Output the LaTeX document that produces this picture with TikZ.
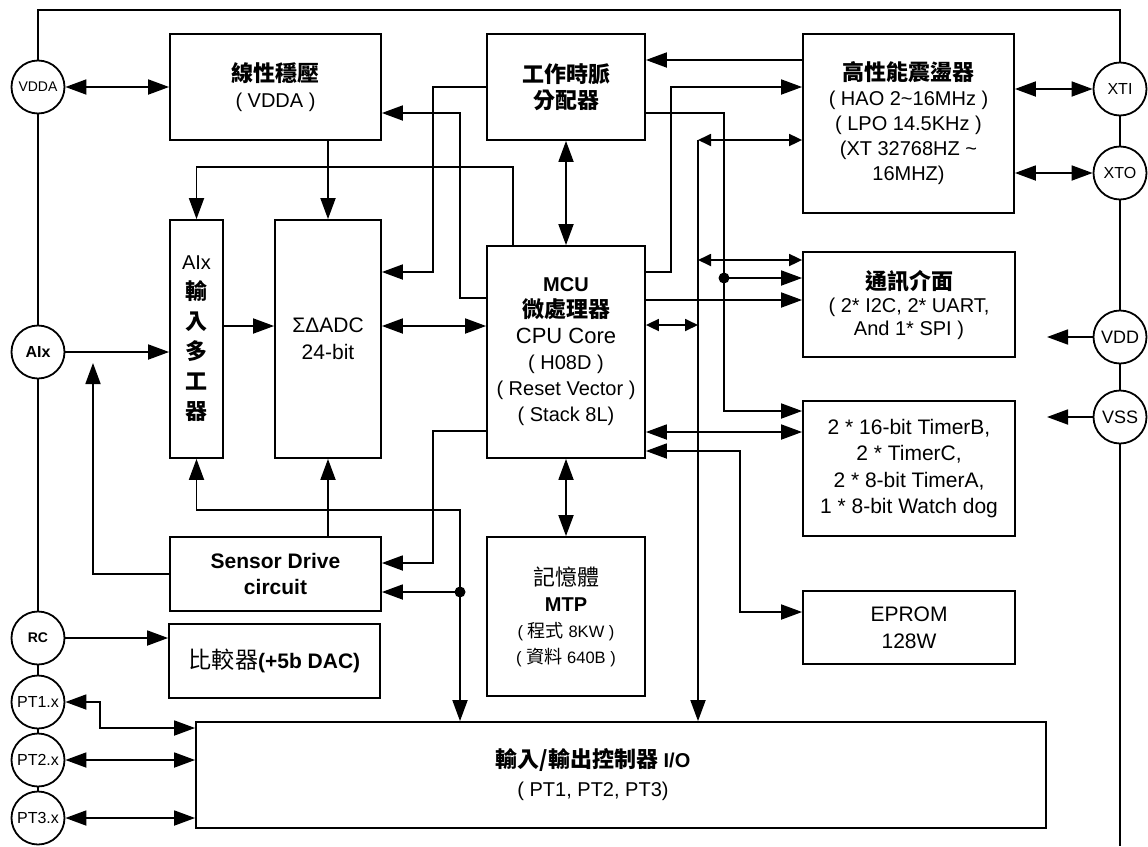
\documentclass[tikz,border=0pt]{standalone}
\usepackage{fontspec}
\setmainfont{Liberation Sans}
\newfontfamily\cjk[Scale=1.1]{Noto Sans CJK TC}
\usetikzlibrary{arrows.meta}
\definecolor{BlockInk}{HTML}{000000}
\newcommand{\zh}[1]{{\cjk #1}}

\begin{document}
\begin{tikzpicture}[x=1pt,y=-1pt,>={Triangle[length=21pt,width=15pt]},line width=1.8pt,BlockInk,
  blk/.style={draw,align=center,inner sep=0pt,font=\fontsize{20}{26}\selectfont},
  pad/.style={draw,circle,minimum size=53pt,inner sep=0pt,font=\fontsize{16}{18}\selectfont},
  shortarr/.style={{Triangle[length=13pt,width=12pt]}-{Triangle[length=13pt,width=12pt]}},
  joint/.style={circle,fill,inner sep=0pt,minimum size=11pt}]
  \useasboundingbox (0,0) rectangle (1148,846);

  % pins
  \node[pad,font=\fontsize{14}{16}\selectfont] (vdda) at (38,87) {VDDA};
  \node[pad,font=\fontsize{16}{18}\selectfont\bfseries] (aix) at (38,352) {AIx};
  \node[pad,font=\fontsize{14}{16}\selectfont\bfseries] (rc) at (38,638) {RC};
  \node[pad] (pt1) at (38,702) {PT1.x};
  \node[pad] (pt2) at (38,760) {PT2.x};
  \node[pad] (pt3) at (38,818) {PT3.x};
  \node[pad] (xti) at (1120,89) {XTI};
  \node[pad] (xto) at (1120,173) {XTO};
  \node[pad,font=\fontsize{18}{20}\selectfont] (vdd) at (1120,337) {VDD};
  \node[pad,font=\fontsize{18}{20}\selectfont] (vss) at (1120,417) {VSS};

  % outer rails
  \coordinate (topL) at (38,10);
  \coordinate (topR) at (1120,10);
  \coordinate (botR) at (1120,846);
  \draw (vdda.north) -- (topL) -- (topR) -- (xti.north);
  \draw (vdda.south) -- (aix.north) (aix.south) -- (rc.north) (rc.south) -- (pt1.north)
        (pt1.south) -- (pt2.north) (pt2.south) -- (pt3.north);
  \draw (xti.south) -- (xto.north) (xto.south) -- (vdd.north) (vdd.south) -- (vss.north)
        (vss.south) -- (botR);

  % blocks
  \node[blk,minimum width=211pt,minimum height=106pt] (ldo) at (275.5,87)
    {\zh{\bfseries 線性穩壓}\\( VDDA )};
  \node[blk,minimum width=158pt,minimum height=106pt] (clk) at (566,87)
    {\zh{\bfseries 工作時脈}\\\zh{\bfseries 分配器}};
  \node[blk,minimum width=211pt,minimum height=179pt,font=\fontsize{20}{25}\selectfont] (osc) at (908.5,123.5)
    {\zh{\bfseries 高性能震盪器}\\( HAO 2\textasciitilde16MHz )\\( LPO 14.5KHz )\\(XT 32768HZ \textasciitilde\\16MHZ)};
  \node[blk,minimum width=53pt,minimum height=238pt,font=\fontsize{20}{30}\selectfont] (mux) at (196.5,339)
    {AIx\\\zh{\bfseries 輸}\\\zh{\bfseries 入}\\\zh{\bfseries 多}\\\zh{\bfseries 工}\\\zh{\bfseries 器}};
  \node[blk,minimum width=106pt,minimum height=238pt,font=\fontsize{21}{27}\selectfont] (adc) at (328,339)
    {ΣΔADC\\24-bit};
  \node[blk,minimum width=158pt,minimum height=212pt] (mcu) at (566,352)
    {\textbf{MCU}\\\zh{\bfseries 微處理器}\\{\fontsize{22}{26}\selectfont CPU Core}\\( H08D )\\( Reset Vector )\\( Stack 8L)};
  \node[blk,minimum width=212pt,minimum height=105pt,font=\fontsize{20}{23}\selectfont] (com) at (909,304.5)
    {\zh{\bfseries 通訊介面}\\( 2* I2C, 2* UART,\\And 1* SPI )};
  \node[blk,minimum width=212pt,minimum height=135pt,font=\fontsize{21}{26.5}\selectfont] (tmr) at (909,468.5)
    {2 * 16-bit TimerB,\\2 * TimerC,\\2 * 8-bit TimerA,\\1 * 8-bit Watch dog};
  \node[blk,minimum width=211pt,minimum height=74pt,font=\fontsize{21}{26}\selectfont\bfseries] (sen) at (275.5,574)
    {Sensor Drive\\circuit};
  \node[blk,minimum width=211pt,minimum height=74pt,font=\fontsize{21}{26}\selectfont] (cmp) at (274.5,661)
    {\zh{比較器}\textbf{(+5b DAC)}};
  \node[blk,minimum width=158pt,minimum height=159pt] (mtp) at (566,616.5)
    {\zh{記憶體}\\\textbf{MTP}\\{\fontsize{16.5}{26}\selectfont ( \zh{程式} 8KW )}\\{\fontsize{16.5}{26}\selectfont ( \zh{資料} 640B )}};
  \node[blk,minimum width=212pt,minimum height=73pt,font=\fontsize{21}{27}\selectfont] (eprom) at (909,627.5)
    {EPROM\\128W};
  \node[blk,minimum width=850pt,minimum height=106pt] (io) at (621,775) {};
  \node[align=center,font=\fontsize{20}{29}\selectfont] (iotext) at ([xshift=-28pt]io.center)
    {\zh{\bfseries 輸入/輸出控制器} \textbf{I/O}\\( PT1, PT2, PT3)};

  % lane corners
  \coordinate (k1a) at (460,298);
  \coordinate (k1b) at (460,113);
  \coordinate (k2) at (433,272);
  \coordinate (k3) at (513,167);
  \coordinate (r60) at (700,60);
  \coordinate (k5a) at (671,272);
  \coordinate (k5b) at (671,87);
  \coordinate (k6a) at (724,113);
  \coordinate (k6) at (724,278);
  \coordinate (k6b) at (724,411);
  \coordinate (bus) at (698,140);
  \coordinate (bus2) at (698,260);
  \coordinate (bus3) at (698,325);
  \coordinate (k7) at (700,300);
  \coordinate (k8) at (700,432);
  \coordinate (k9a) at (740,451);
  \coordinate (k9b) at (740,612);
  \coordinate (k10) at (430,326);
  \coordinate (k11) at (93,363);
  \coordinate (k12a) at (433,431);
  \coordinate (k12b) at (433,563);
  \coordinate (k13) at (460,510);
  \coordinate (k14) at (460,592);
  \coordinate (k15) at (100,728);
  \coordinate (vddEnd) at (1047,337);
  \coordinate (vssEnd) at (1047,417);

  % top part
  \draw[<->] (vdda) -- (ldo);
  \draw[->] (mcu.west |- k1a) -- (k1a) -- (k1b) -- (ldo.east |- k1b);
  \draw[->] (clk.west) -| (k2) -- (adc.east |- k2);
  \draw[->] (mcu.north -| k3) -- (k3) -| (mux.north);
  \draw[->] (ldo.south -| adc) -- (adc.north);
  \draw[<->] (clk) -- (mcu);
  \draw[->] (osc.west |- r60) -- (clk.east |- r60);
  \draw[->] (mcu.east |- k5a) -- (k5a) -- (k5b) -- (osc.west |- k5b);
  \draw[->] (clk.east |- k6a) -- (k6a) -- (k6b) -- (tmr.west |- k6b);
  \draw[->] (k6) -- (com.west |- k6);
  \node[joint] (j1) at (k6) {};
  \draw[<->] (osc.east |- xti) -- (xti);
  \draw[<->] (osc.east |- xto) -- (xto);
  \draw[->] (vdd) -- (vddEnd);
  \draw[->] (vss) -- (vssEnd);

  % data bus
  \draw[->] (bus) -- (io.north -| bus);
  \draw[shortarr] (bus) -- (osc.west |- bus);
  \draw[shortarr] (bus2) -- (com.west |- bus2);
  \draw[shortarr] (mcu.east |- bus3) -- (bus3);
  \draw[->] (mcu.east |- k7) -- (com.west |- k7);
  \draw[<->] (mcu.east |- k8) -- (tmr.west |- k8);
  \draw[<->] (mcu.east |- k9a) -- (k9a) -- (k9b) -- (eprom.west |- k9b);

  % analog side
  \draw[<->] (adc.east |- k10) -- (mcu.west |- k10);
  \draw[->] (mux.east |- k10) -- (adc.west |- k10);
  \draw[->] (aix) -- (mux.west |- aix);
  \draw[->] (sen.west) -| (k11);
  \draw[->] (sen.north -| adc) -- (adc.south);
  \draw[->] (mcu.west |- k12a) -- (k12a) -- (k12b) -- (sen.east |- k12b);
  \draw[<->] (mux.south) |- (k13) -- (io.north -| k13);
  \draw[->] (k14) -- (sen.east |- k14);
  \node[joint] (j2) at (k14) {};
  \draw[<->] (mcu) -- (mtp);
  \draw[->] (rc) -- (cmp.west |- rc);

  % ports
  \draw[<->] (pt1.east) -| (k15) -- (io.west |- k15);
  \draw[<->] (pt2) -- (io.west |- pt2);
  \draw[<->] (pt3) -- (io.west |- pt3);
\end{tikzpicture}
\end{document}
